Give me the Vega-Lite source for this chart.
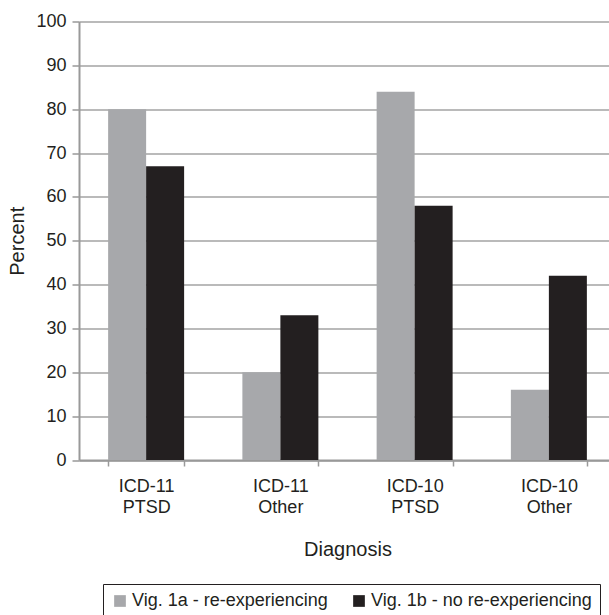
{
  "$schema": "https://vega.github.io/schema/vega-lite/v6.json",
  "autosize": {"type": "none"},
  "width": 531,
  "height": 438.5,
  "padding": {"left": 79, "top": 21.5, "right": 0, "bottom": 155},
  "background": "white",
  "config": {
    "font": "Liberation Sans",
    "view": {"stroke": null}
  },
  "data": {
    "values": [
      {"diagnosis": "ICD-11 PTSD", "vignette": "Vig. 1a - re-experiencing", "percent": 80},
      {"diagnosis": "ICD-11 PTSD", "vignette": "Vig. 1b - no re-experiencing", "percent": 67},
      {"diagnosis": "ICD-11 Other", "vignette": "Vig. 1a - re-experiencing", "percent": 20},
      {"diagnosis": "ICD-11 Other", "vignette": "Vig. 1b - no re-experiencing", "percent": 33},
      {"diagnosis": "ICD-10 PTSD", "vignette": "Vig. 1a - re-experiencing", "percent": 84},
      {"diagnosis": "ICD-10 PTSD", "vignette": "Vig. 1b - no re-experiencing", "percent": 58},
      {"diagnosis": "ICD-10 Other", "vignette": "Vig. 1a - re-experiencing", "percent": 16},
      {"diagnosis": "ICD-10 Other", "vignette": "Vig. 1b - no re-experiencing", "percent": 42}
    ]
  },
  "mark": {"type": "bar"},
  "encoding": {
    "x": {
      "field": "diagnosis",
      "type": "nominal",
      "sort": ["ICD-11 PTSD", "ICD-11 Other", "ICD-10 PTSD", "ICD-10 Other"],
      "scale": {"range": [0, 537], "paddingInner": 0.434, "paddingOuter": 0.217},
      "axis": {
        "title": "Diagnosis",
        "titleFontSize": 20,
        "titleFontWeight": "normal",
        "titleColor": "#231f20",
        "titlePadding": 23,
        "titleX": 268.5,
        "labelAngle": 0,
        "labelFontSize": 18,
        "labelColor": "#231f20",
        "labelLineHeight": 21,
        "labelPadding": 11,
        "labelExpr": "split(datum.label, ' ')",
        "tickBand": "extent",
        "tickSize": 6,
        "tickColor": "#999999",
        "tickWidth": 1.5,
        "domainColor": "#999999",
        "domainWidth": 2,
        "grid": false
      }
    },
    "xOffset": {"field": "vignette", "type": "nominal"},
    "y": {
      "field": "percent",
      "type": "quantitative",
      "scale": {"domain": [0, 100]},
      "axis": {
        "title": "Percent",
        "titleFontSize": 20,
        "titleFontWeight": "normal",
        "titleColor": "#231f20",
        "titlePadding": 8,
        "values": [0, 10, 20, 30, 40, 50, 60, 70, 80, 90, 100],
        "labelFontSize": 18,
        "labelColor": "#231f20",
        "labelPadding": 6,
        "tickSize": 7,
        "tickColor": "#999999",
        "tickWidth": 1.5,
        "domainColor": "#999999",
        "domainWidth": 2,
        "gridColor": "#a3a3a3",
        "gridWidth": 1.5
      }
    },
    "color": {
      "field": "vignette",
      "type": "nominal",
      "scale": {
        "domain": ["Vig. 1a - re-experiencing", "Vig. 1b - no re-experiencing"],
        "range": ["#a7a8ab", "#231f20"]
      },
      "legend": {
        "title": null,
        "orient": "none",
        "direction": "horizontal",
        "legendX": 24,
        "legendY": 562.5,
        "padding": 8,
        "strokeColor": "#231f20",
        "fillColor": "white",
        "symbolType": "square",
        "symbolSize": 137,
        "symbolStrokeWidth": 0,
        "symbolOpacity": 1,
        "labelFontSize": 18,
        "labelLimit": 400,
        "labelColor": "#231f20",
        "labelOffset": 3,
        "columnPadding": 22
      }
    }
  }
}
